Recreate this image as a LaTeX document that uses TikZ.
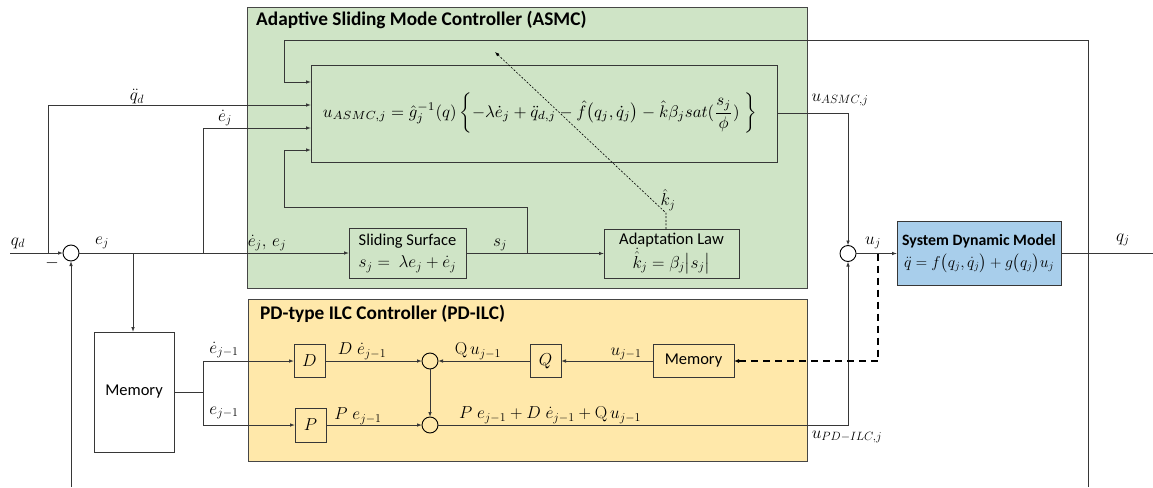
\documentclass[tikz,border=0pt]{standalone}
\usepackage{amsmath}
\usepackage[no-math]{fontspec}
\setmainfont{Carlito}
\usetikzlibrary{arrows.meta,calc}
\definecolor{asmcgreen}{RGB}{207,228,198}
\definecolor{ilcyellow}{RGB}{255,232,170}
\definecolor{sysblue}{RGB}{168,206,235}
\definecolor{wirec}{RGB}{55,55,55}
\definecolor{framec}{RGB}{70,70,70}

\tikzset{
  wire/.style={draw=wirec, line width=0.9pt},
  arr/.style={wire, -{Latex[length=5pt,width=3.6pt]}},
  dasharr/.style={draw=black, line width=1.8pt, dash pattern=on 7pt off 5pt,
                  -{Latex[length=5pt,width=4pt]}},
  dotarr/.style={draw=black, line width=0.6pt, dash pattern=on 2pt off 1.6pt,
                 -{Latex[length=4.5pt,width=3.4pt]}},
  panel/.style={draw=framec, line width=1pt, inner sep=0, outer sep=0},
  blk/.style={draw=wirec, line width=0.9pt, inner sep=0, outer sep=0, align=center,
              font=\fontsize{16.5}{22}\selectfont},
  sumc/.style={circle, draw=black, line width=0.9pt, minimum size=16pt, inner sep=0, outer sep=0},
  lab/.style={inner sep=0, font=\fontsize{17.5}{20}\selectfont},
  ttl/.style={inner sep=0, anchor=base west, font=\fontsize{19.3}{22}\selectfont\bfseries},
}

\begin{document}
\begin{tikzpicture}[x=1pt,y=-1pt]
\useasboundingbox (0,0) rectangle (1153,487);

% controller panels
\node[panel, fill=asmcgreen, minimum width=560pt, minimum height=280pt] (asmc) at (527,148) {};
\node[panel, fill=ilcyellow, minimum width=559pt, minimum height=162pt] (ilc) at (527.5,380) {};
\node[ttl] (asmct) at (256,26) {Adaptive Sliding Mode Controller (ASMC)};
\node[ttl] (ilct) at (260,319) {PD-type ILC Controller (PD-ILC)};

% ASMC blocks
\node[blk, minimum width=466pt, minimum height=97pt] (fbox) at (544,113.5) {};
\node[inner sep=0] (law) at (540,113) {\resizebox{434pt}{!}{$u_{ASMC,j} = \hat{g}_j^{-1}(q)\left\{-\lambda\dot{e}_j + \ddot{q}_{d,j} - \hat{f}\big(q_j,\dot{q}_j\big) - \hat{k}\beta_j sat(\dfrac{s_j}{\phi})\;\right\}$}};
\node[blk, minimum width=117pt, minimum height=50pt] (slide) at (407.5,253.5)
  {Sliding Surface\\ $s_j =\ \lambda e_j + \dot{e}_j$};
\node[blk, minimum width=135pt, minimum height=49pt] (adapt) at (671.5,253.5)
  {Adaptation Law\\ $\dot{\hat{k}}_j = \beta_j\big|s_j\big|$};

% ILC blocks
\node[blk, fill=white, minimum width=80pt, minimum height=120pt] (mem1) at (134,392) {Memory};
\node[blk, minimum width=31pt, minimum height=33pt] (Dg) at (309.5,361) {$D$};
\node[blk, minimum width=31pt, minimum height=34pt] (Pg) at (310.5,425) {$P$};
\node[blk, minimum width=31pt, minimum height=33pt] (Qg) at (545.5,361) {$Q$};
\node[blk, minimum width=81pt, minimum height=33pt] (mem2) at (693.5,361) {Memory};

% plant
\node[blk, fill=sysblue, minimum width=164pt, minimum height=64pt] (sys) at (979,253.5)
  {{\fontsize{15.8}{23}\selectfont\bfseries System Dynamic Model}\\
   \resizebox{150pt}{!}{$\ddot{q} = f\big(q_j,\dot{q}_j\big) + g\big(q_j\big)u_j$}};

% summing junctions
\node[sumc] (s0) at (71,253) {};
\node[sumc] (s1) at (430,361) {};
\node[sumc] (s2) at (430,425) {};
\node[sumc] (s3) at (848,253.5) {};

% branch points and free ends
\coordinate (qdin) at (10,253);
\coordinate (qdbr) at (48,253);
\coordinate (mbr) at (133,253);
\coordinate (ebr) at (203,253);
\coordinate (mj) at (203,392);
\coordinate (in1) at (311,82);
\coordinate (in2) at (311,105);
\coordinate (in3) at (311,128);
\coordinate (in4) at (311,150);
\coordinate (sbr) at (527,253.5);
\coordinate (sloop) at (284,207);
\coordinate (ftop) at (284,40);
\coordinate (fbA) at (1088,487);
\coordinate (fbC) at (71,487);
\coordinate (ubr) at (878,253.5);
\coordinate (qout) at (1153,253.5);
\coordinate (kb) at (666,213);
\coordinate (ke) at (495,52);

% tracking error path
\draw[arr] (qdin) -- (s0.west);
\draw[arr] (qdbr) |- (in2);
\draw[arr] (s0.east) -- (slide.west |- s0.east);
\draw[arr] (ebr) |- (in3);
\draw[arr] (mbr) -- (mbr |- mem1.north);
\draw[arr] (fbC) -- (s0.south);

% ASMC internals
\draw[arr] (slide.east) -- (adapt.west);
\draw[arr] (sbr) |- (sloop) |- (in4);
\draw[dotarr] (adapt.north -| kb) -- (kb) -- (ke);
\draw[arr] (fbA) |- (ftop) |- (in1);
\draw[arr] (fbox.east) -| (s3.north);

% ILC internals
\draw[wire] (mem1.east |- mj) -- (mj);
\draw[arr] (mj) |- (Dg.west);
\draw[arr] (mj) |- (Pg.west);
\draw[arr] (Dg.east) -- (s1.west);
\draw[arr] (Pg.east) -- (s2.west);
\draw[arr] (mem2.west) -- (Qg.east);
\draw[arr] (Qg.west) -- (s1.east);
\draw[arr] (s1.south) -- (s2.north);
\draw[arr] (s2.east) -| (s3.south);

% plant input and output
\draw[arr] (s3.east) -- (sys.west);
\draw[dasharr] (ubr) |- (mem2.east);
\draw[wire] (sys.east) -- (qout);

% signal labels
\node[lab] (lqd) at (18,243) {$q_d$};
\node[lab] (lminus) at (52,263) {$-$};
\node[lab] (lej) at (102,243) {$e_j$};
\node[lab] (lqdd) at (137,97) {$\ddot{q}_d$};
\node[lab] (ledj) at (225,118) {$\dot{e}_j$};
\node[lab] (lboth) at (267,243) {$\dot{e}_j,\, e_j$};
\node[lab] (lsj) at (500,245) {$s_j$};
\node[lab] (lkh) at (668,200) {$\hat{k}_j$};
\node[lab] (lua) at (840,100) {$u_{ASMC,j}$};
\node[lab] (luj) at (873,243) {$u_j$};
\node[lab] (lqj) at (1123,240) {$q_j$};
\node[lab] (lup) at (847,437) {$u_{PD-ILC,j}$};
\node[lab] (led1) at (224,350) {$\dot{e}_{j-1}$};
\node[lab] (le1) at (224,413) {$e_{j-1}$};
\node[lab] (lDe) at (362,351) {$D\;\dot{e}_{j-1}$};
\node[lab] (lPe) at (358,416) {$P\;e_{j-1}$};
\node[lab] (lQu) at (478,351) {$\mathrm{Q}\,u_{j-1}$};
\node[lab] (lu1) at (626,354) {$u_{j-1}$};
\node[lab] (lsum) at (550,415) {$P\;e_{j-1} + D\;\dot{e}_{j-1} + \mathrm{Q}\,u_{j-1}$};
\end{tikzpicture}
\end{document}
